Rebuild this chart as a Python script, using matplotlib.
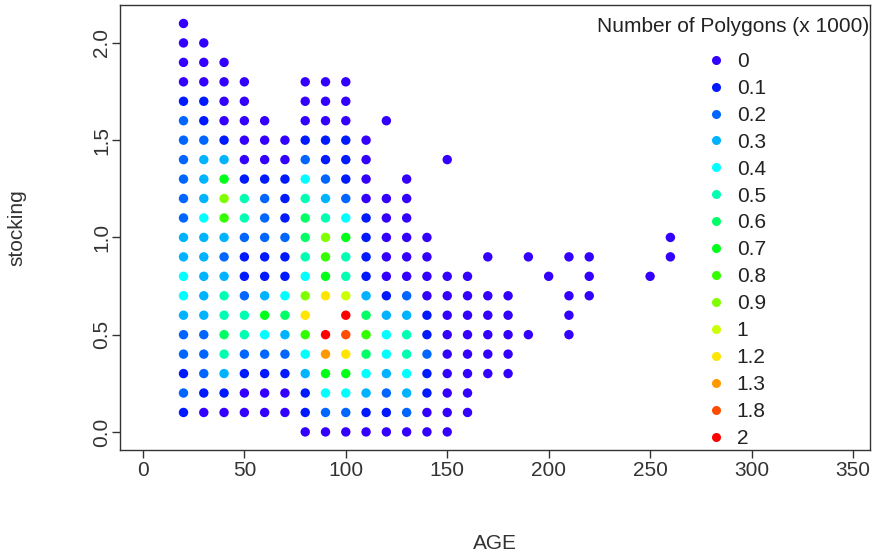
import matplotlib
matplotlib.use("Agg")
import matplotlib.pyplot as plt
from matplotlib.colors import hsv_to_rgb
from matplotlib.lines import Line2D
import numpy as np

plt.rcParams['font.family'] = ['Liberation Sans', 'DejaVu Sans']

# Legend levels (Number of Polygons x 1000)
levels = [0, 0.1, 0.2, 0.3, 0.4, 0.5, 0.6, 0.7, 0.8, 0.9, 1, 1.2, 1.3, 1.8, 2]
level_labels = ["0", "0.1", "0.2", "0.3", "0.4", "0.5", "0.6", "0.7", "0.8", "0.9",
                "1", "1.2", "1.3", "1.8", "2"]

# stocking rows (top to bottom)
stocking_rows = [2.1, 2.0, 1.9, 1.8, 1.7, 1.6, 1.5, 1.4, 1.3, 1.2, 1.1, 1.0,
                 0.9, 0.8, 0.7, 0.6, 0.5, 0.4, 0.3, 0.2, 0.1, 0.0]

ages_by_row = [
    [20],
    [20, 30],
    [20, 30, 40],
    [20, 30, 40, 50, 80, 90, 100],
    [20, 30, 40, 50, 80, 90, 100],
    [20, 30, 40, 50, 60, 80, 90, 100, 120],
    [20, 30, 40, 50, 60, 70, 80, 90, 100, 110],
    [20, 30, 40, 50, 60, 70, 80, 90, 100, 110, 150],
    [20, 30, 40, 50, 60, 70, 80, 90, 100, 110, 130],
    [20, 30, 40, 50, 60, 70, 80, 90, 100, 110, 120, 130],
    [20, 30, 40, 50, 60, 70, 80, 90, 100, 110, 120, 130],
    [20, 30, 40, 50, 60, 70, 80, 90, 100, 110, 120, 130, 140, 260],
    [20, 30, 40, 50, 60, 70, 80, 90, 100, 110, 120, 130, 140, 170, 190, 210, 220, 260],
    [20, 30, 40, 50, 60, 70, 80, 90, 100, 110, 120, 130, 140, 150, 160, 200, 220, 250],
    [20, 30, 40, 50, 60, 70, 80, 90, 100, 110, 120, 130, 140, 150, 160, 170, 180, 210, 220],
    [20, 30, 40, 50, 60, 70, 80, 100, 110, 120, 130, 140, 150, 160, 170, 180, 210],
    [20, 30, 40, 50, 60, 70, 80, 90, 100, 110, 120, 130, 140, 150, 160, 170, 180, 190, 210],
    [20, 30, 40, 50, 60, 70, 80, 90, 100, 110, 120, 130, 140, 150, 160, 170, 180],
    [20, 30, 40, 50, 60, 70, 80, 90, 100, 110, 120, 130, 140, 150, 160, 170, 180],
    [20, 30, 40, 50, 60, 70, 80, 90, 100, 110, 120, 130, 140, 150, 160],
    [20, 30, 40, 50, 60, 70, 80, 90, 100, 110, 120, 130, 140, 150, 160],
    [80, 90, 100, 110, 120, 130, 140, 150],
]

polygons_by_row = [
    [0],
    [0, 0],
    [0, 0, 0],
    [0, 0, 0, 0, 0, 0, 0],
    [0.1, 0.1, 0, 0, 0, 0, 0],
    [0.2, 0.1, 0, 0, 0, 0, 0, 0, 0],
    [0.2, 0.2, 0.1, 0, 0, 0, 0.1, 0.1, 0.1, 0],
    [0.2, 0.3, 0.3, 0, 0, 0, 0.2, 0.1, 0.1, 0, 0],
    [0.2, 0.3, 0.7, 0.1, 0.1, 0.1, 0.4, 0.2, 0.1, 0, 0],
    [0.2, 0.3, 0.9, 0.5, 0.2, 0.1, 0.5, 0.3, 0.2, 0, 0, 0],
    [0.2, 0.4, 0.8, 0.5, 0.2, 0.1, 0.6, 0.5, 0.4, 0.1, 0, 0],
    [0.3, 0.3, 0.3, 0.2, 0.2, 0.2, 0.6, 0.9, 0.7, 0.1, 0, 0, 0, 0],
    [0.3, 0.3, 0.2, 0.1, 0.1, 0.1, 0.5, 0.8, 0.5, 0.1, 0, 0, 0, 0, 0, 0, 0, 0],
    [0.4, 0.3, 0.3, 0.1, 0.1, 0.1, 0.4, 0.7, 0.5, 0.1, 0, 0, 0, 0, 0, 0, 0, 0],
    [0.4, 0.3, 0.5, 0.2, 0.3, 0.4, 0.9, 1.2, 1, 0.3, 0.1, 0.2, 0, 0, 0, 0, 0, 0, 0],
    [0.3, 0.3, 0.5, 0.5, 0.7, 0.6, 1.2, 2, 0.6, 0.3, 0.3, 0.1, 0, 0, 0, 0, 0],
    [0.2, 0.2, 0.6, 0.5, 0.4, 0.3, 0.8, 2, 1.8, 0.8, 0.4, 0.5, 0.1, 0, 0, 0, 0, 0, 0],
    [0.2, 0.2, 0.5, 0.2, 0.2, 0.2, 0.4, 1.3, 1.2, 0.6, 0.4, 0.5, 0.2, 0, 0, 0, 0],
    [0.1, 0.2, 0.3, 0.1, 0.1, 0.1, 0.3, 0.7, 0.7, 0.4, 0.3, 0.4, 0.1, 0, 0, 0, 0],
    [0.2, 0.1, 0.1, 0, 0, 0, 0.1, 0.4, 0.4, 0.3, 0.2, 0.3, 0.1, 0, 0],
    [0.1, 0, 0, 0, 0, 0, 0.1, 0.2, 0.2, 0.1, 0.1, 0.2, 0, 0, 0],
    [0, 0, 0, 0, 0, 0, 0, 0],
]

# rainbow palette: red for the highest level, violet-blue for 0
n = len(levels)
palette = [hsv_to_rgb((0.7 * (n - 1 - i) / (n - 1), 1.0, 1.0)) for i in range(n)]

age, stocking, pol = [], [], []
for s, a_row, p_row in zip(stocking_rows, ages_by_row, polygons_by_row):
    for a, p in zip(a_row, p_row):
        age.append(a)
        stocking.append(s)
        pol.append(p)
colors = [palette[levels.index(p)] for p in pol]

FS = 15
fig = plt.figure(figsize=(8.8, 5.58), dpi=100)
ax = fig.add_axes([120 / 880, 1 - 450 / 558, 750 / 880, 445 / 558])
ax.scatter(age, stocking, c=colors, s=46, linewidths=0, zorder=3)

ax.set_xlim(-11.3, 358.4)
ax.set_ylim(-0.093, 2.195)
ax.set_xticks(np.arange(0, 351, 50))
ax.set_yticks([0.0, 0.5, 1.0, 1.5, 2.0])
ax.set_yticklabels(["0.0", "0.5", "1.0", "1.5", "2.0"], rotation=90, va='center')
ax.tick_params(direction='out', length=6, width=1, labelsize=FS, color='#333333',
               labelcolor='#333333')
ax.tick_params(axis='x', pad=2)
ax.tick_params(axis='y', pad=0.5)
for sp in ax.spines.values():
    sp.set_color('#333333')
    sp.set_linewidth(1)
ax.set_xlabel("AGE", fontsize=FS, color='#333333', labelpad=39)
ax.set_ylabel("stocking", fontsize=FS, color='#333333', labelpad=47)

handles = [Line2D([], [], linestyle='none', marker='o', markersize=6.5,
                  markerfacecolor=palette[i], markeredgewidth=0)
           for i in range(n)]
leg = ax.legend(handles, level_labels, loc='upper left',
                bbox_to_anchor=((705.5 - 120) / 750, (450 - 52) / 445),
                frameon=False, fontsize=FS, labelspacing=0.38,
                handlelength=1.0, handletextpad=0.5, borderaxespad=0, borderpad=0)
for t in leg.get_texts():
    t.set_color('#222222')
ax.text((733 - 120) / 750, (450 - 27) / 445, "Number of Polygons (x 1000)",
        transform=ax.transAxes, ha='center', va='center', fontsize=FS, color='#222222')

fig.savefig("out.png", dpi=100)
